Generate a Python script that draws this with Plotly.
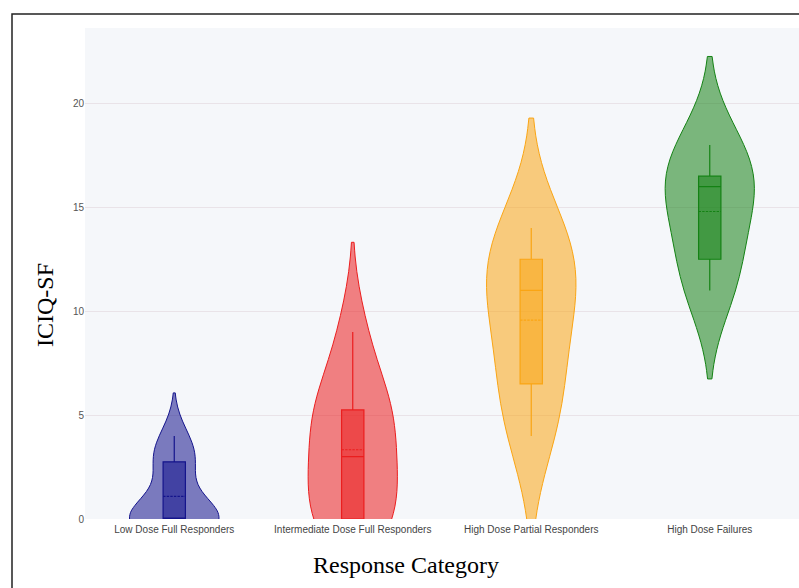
import plotly.graph_objects as go

# ICIQ-SF scores by response category
categories = [
    "Low Dose Full Responders",
    "Intermediate Dose Full Responders",
    "High Dose Partial Responders",
    "High Dose Failures",
]
low_dose_full = [0, 0, 0, 0, 0, 0, 0, 2, 3, 3, 4]
intermediate_dose_full = [0, 0, 0, 2, 3, 5, 5, 6, 9]
high_dose_partial = [4, 6, 8, 11, 11, 13, 14]
high_dose_failures = [11, 13, 16, 16, 18]

groups = [low_dose_full, intermediate_dose_full, high_dose_partial, high_dose_failures]
base_colors = [(20, 20, 140), (235, 30, 30), (250, 165, 20), (20, 130, 20)]

W, H = 799, 588
L, R, T, B = 85, 0, 28, 69
plot_w = W - L - R
plot_h = H - T - B

fig = go.Figure()
for cat, vals, (r, g, b) in zip(categories, groups, base_colors):
    solid = f"rgb({r},{g},{b})"
    fill = f"rgba({r},{g},{b},0.55)"
    fig.add_trace(go.Violin(
        x=[cat] * len(vals),
        y=vals,
        name=cat,
        width=0.5,
        points=False,
        fillcolor=fill,
        line=dict(color=solid, width=1),
        box=dict(visible=True, width=0.25, fillcolor=fill,
                 line=dict(color=solid, width=1.2)),
        meanline=dict(visible=True, color=solid, width=1.2),
        showlegend=False,
        hoverinfo="skip",
    ))

def px_to_paper_x(px):
    return (px - L) / plot_w

def px_to_paper_y(py):
    return (H - B - py) / plot_h

fig.update_layout(
    width=W, height=H,
    margin=dict(l=L, r=R, t=T, b=B),
    paper_bgcolor="white",
    plot_bgcolor="#f5f7fa",
    violinmode="overlay",
    font=dict(family="Liberation Sans, Arial, sans-serif", size=10, color="#555"),
    xaxis=dict(
        type="category",
        categoryorder="array",
        categoryarray=categories,
        range=[-0.5, 3.5],
        showgrid=False,
        zeroline=False,
        showline=False,
        ticklabelstandoff=3,
        tickfont=dict(size=10, color="#444"),
    ),
    yaxis=dict(
        range=[0, 23.63],
        tickvals=[0, 5, 10, 15, 20],
        showgrid=True,
        gridcolor="#e9e3e8",
        gridwidth=1,
        zeroline=False,
        showline=False,
        tickfont=dict(size=10, color="#555"),
    ),
    annotations=[
        dict(text="ICIQ-SF", xref="paper", yref="paper",
             x=px_to_paper_x(45), y=px_to_paper_y(305),
             xanchor="center", yanchor="middle", textangle=-90, showarrow=False,
             font=dict(family="Liberation Serif, Times New Roman, serif", size=24, color="black")),
        dict(text="Response Category", xref="paper", yref="paper",
             x=px_to_paper_x(406), y=px_to_paper_y(565),
             xanchor="center", yanchor="middle", showarrow=False,
             font=dict(family="Liberation Serif, Times New Roman, serif", size=24, color="black")),
    ],
    shapes=[
        dict(type="rect", xref="paper", yref="paper",
             x0=px_to_paper_x(12), x1=1.5,
             y0=-0.6, y1=px_to_paper_y(14),
             line=dict(color="#222", width=1.5), fillcolor="rgba(0,0,0,0)"),
    ],
)

fig.write_html("out.html")
